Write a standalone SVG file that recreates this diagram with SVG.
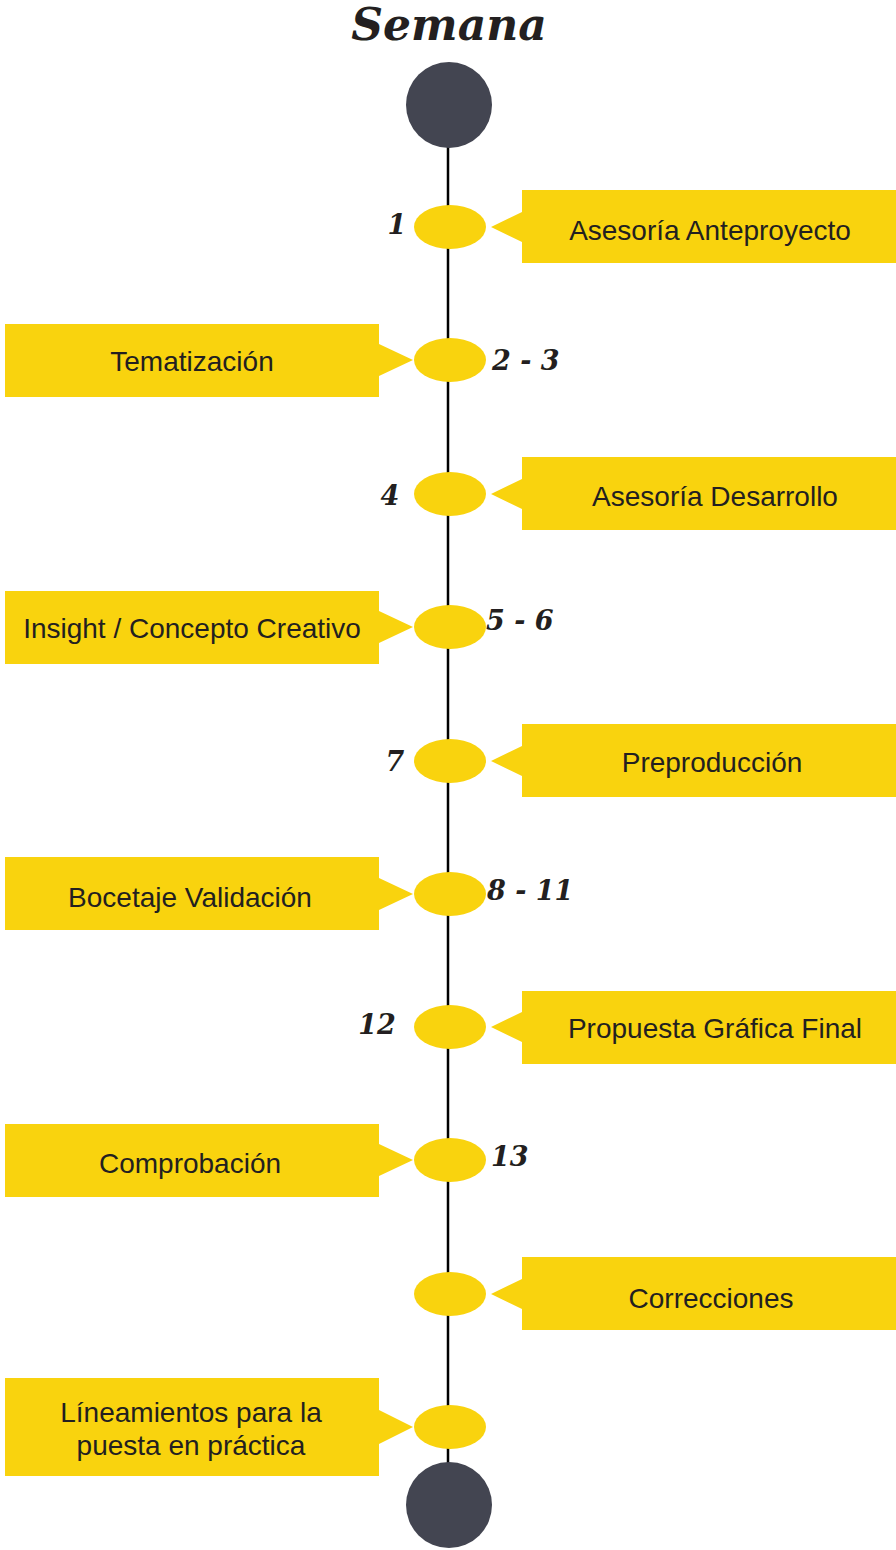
<svg xmlns="http://www.w3.org/2000/svg" width="896" height="1550" viewBox="0 0 896 1550">
<style>
.box{fill:#F9D30E}
.dot{fill:#F9D30E}
.end{fill:#434551}
.lbl{font-family:"Liberation Sans",Arial,sans-serif;font-size:28px;fill:#231F20;text-anchor:middle}
.num{font-family:"DejaVu Serif","Liberation Serif",serif;font-weight:bold;font-style:italic;font-size:27px;fill:#231F20}
.title{font-family:"DejaVu Serif","Liberation Serif",serif;font-weight:bold;font-style:italic;font-size:44px;fill:#231F20;text-anchor:middle}
</style>
<rect width="896" height="1550" fill="#fff"/>
<text class="title" x="449" y="40">Semana</text>
<g id="connectors">
<line x1="448" y1="105" x2="448" y2="1505" stroke="#000" stroke-width="2.5"/>
</g>
<g id="start"><circle class="end" cx="449" cy="105" r="43"/></g>
<g id="end"><circle class="end" cx="449" cy="1505" r="43"/></g>

<g id="n1">
<ellipse class="dot" cx="450" cy="227" rx="36" ry="22"/>
<text class="num" x="397" y="234" text-anchor="middle">1</text>
<path class="box" d="M522 190H896V263H522V242L491 227L522 212Z"/>
<text class="lbl" x="710" y="240">Asesoría Anteproyecto</text>
</g>
<g id="n2">
<ellipse class="dot" cx="450" cy="360" rx="36" ry="22"/>
<text class="num" x="492" y="370">2 - 3</text>
<path class="box" d="M5 324H379V344L413 360L379 376V397H5Z"/>
<text class="lbl" x="192" y="371">Tematización</text>
</g>
<g id="n3">
<ellipse class="dot" cx="450" cy="494" rx="36" ry="22"/>
<text class="num" x="390" y="505" text-anchor="middle">4</text>
<path class="box" d="M522 457H896V530H522V509L491 494L522 479Z"/>
<text class="lbl" x="715" y="506">Asesoría Desarrollo</text>
</g>
<g id="n4">
<ellipse class="dot" cx="450" cy="627" rx="36" ry="22"/>
<text class="num" x="486" y="630">5 - 6</text>
<path class="box" d="M5 591H379V611L413 627L379 643V664H5Z"/>
<text class="lbl" x="192" y="638">Insight / Concepto Creativo</text>
</g>
<g id="n5">
<ellipse class="dot" cx="450" cy="761" rx="36" ry="22"/>
<text class="num" x="395" y="771" text-anchor="middle">7</text>
<path class="box" d="M522 724H896V797H522V776L491 761L522 746Z"/>
<text class="lbl" x="712" y="772">Preproducción</text>
</g>
<g id="n6">
<ellipse class="dot" cx="450" cy="894" rx="36" ry="22"/>
<text class="num" x="487" y="900">8 - 11</text>
<path class="box" d="M5 857H379V878L413 894L379 910V930H5Z"/>
<text class="lbl" x="190" y="907">Bocetaje Validación</text>
</g>
<g id="n7">
<ellipse class="dot" cx="450" cy="1027" rx="36" ry="22"/>
<text class="num" x="377" y="1034" text-anchor="middle">12</text>
<path class="box" d="M522 991H896V1064H522V1042L491 1027L522 1012Z"/>
<text class="lbl" x="715" y="1038">Propuesta Gráfica Final</text>
</g>
<g id="n8">
<ellipse class="dot" cx="450" cy="1160" rx="36" ry="22"/>
<text class="num" x="491" y="1166">13</text>
<path class="box" d="M5 1124H379V1144L413 1160L379 1176V1197H5Z"/>
<text class="lbl" x="190" y="1173">Comprobación</text>
</g>
<g id="n9">
<ellipse class="dot" cx="450" cy="1294" rx="36" ry="22"/>
<path class="box" d="M522 1257H896V1330H522V1309L491 1294L522 1279Z"/>
<text class="lbl" x="711" y="1308">Correcciones</text>
</g>
<g id="n10">
<ellipse class="dot" cx="450" cy="1427" rx="36" ry="22"/>
<path class="box" d="M5 1378H379V1410L413 1427L379 1444V1476H5Z"/>
<text class="lbl" x="191" y="1422">Líneamientos para la</text>
<text class="lbl" x="191" y="1455">puesta en práctica</text>
</g>
</svg>
